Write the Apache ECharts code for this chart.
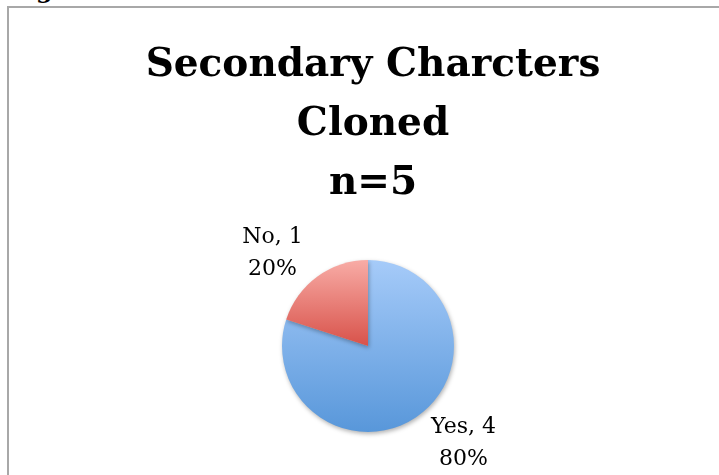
<!DOCTYPE html>
<html>
<head>
<meta charset="utf-8">
<script src="https://cdn.jsdelivr.net/npm/echarts@6/dist/echarts.min.js"></script>
<style>
  html, body { margin: 0; padding: 0; background: #fff; width: 719px; height: 475px; overflow: hidden; }
  #frame { position: absolute; left: 7px; top: 6px; width: 720px; height: 480px; border-left: 2px solid #a8a8a8; border-top: 2px solid #a8a8a8; box-sizing: border-box; }
  #cap { position: absolute; left: 36px; top: -22px; font: bold 24px "DejaVu Serif"; line-height: 24px; color: #000; }
  #chart { position: absolute; left: 0; top: 0; width: 719px; height: 475px; }
</style>
</head>
<body>
<div id="cap">g</div>
<div id="frame"></div>
<div id="chart"></div>
<script>
const titleLines = ['Secondary Charcters', 'Cloned', 'n=5'];
const categories = ['Yes', 'No'];
const values = [4, 1];
const percents = ['80%', '20%'];

const gradients = [
  ['#a6cbf9', '#5897da'],
  ['#f8aca6', '#d8524a']
];
const labelShift = [-15, 12];

const chart = echarts.init(document.getElementById('chart'), null, { renderer: 'canvas' });

const data = categories.map((c, i) => ({
  name: c,
  value: values[i],
  pct: percents[i],
  itemStyle: {
    color: new echarts.graphic.LinearGradient(0, 0, 0, 1, [
      { offset: 0, color: gradients[i][0] },
      { offset: 1, color: gradients[i][1] }
    ])
  },
  labelLine: { length: i === 0 ? 34 : 29, length2: 0, show: false }
}));

chart.setOption({
  animation: false,
  title: {
    text: titleLines.join('\n'),
    left: 368,
    top: 31,
    textAlign: 'center',
    textStyle: {
      fontFamily: 'DejaVu Serif',
      fontWeight: 'bold',
      fontSize: 39,
      lineHeight: 59,
      color: '#000'
    }
  },
  series: [{
    type: 'pie',
    center: [368, 346],
    radius: 86,
    startAngle: 90,
    clockwise: true,
    silent: true,
    data: data,
    itemStyle: {
      borderWidth: 0,
      shadowColor: 'rgba(0,0,0,0.3)',
      shadowBlur: 4,
      shadowOffsetX: 1,
      shadowOffsetY: 2
    },
    label: {
      show: true,
      position: 'outside',
      formatter: p => '{a|' + p.name + ', ' + p.value + '}\n{a|' + p.data.pct + '}',
      rich: {
        a: {
          fontFamily: 'DejaVu Serif',
          fontSize: 22,
          lineHeight: 32,
          width: 70,
          align: 'center',
          color: '#000'
        }
      }
    },
    labelLayout: p => ({ dx: labelShift[p.dataIndex] }),
    labelLine: { show: false }
  }]
});
</script>
</body>
</html>
